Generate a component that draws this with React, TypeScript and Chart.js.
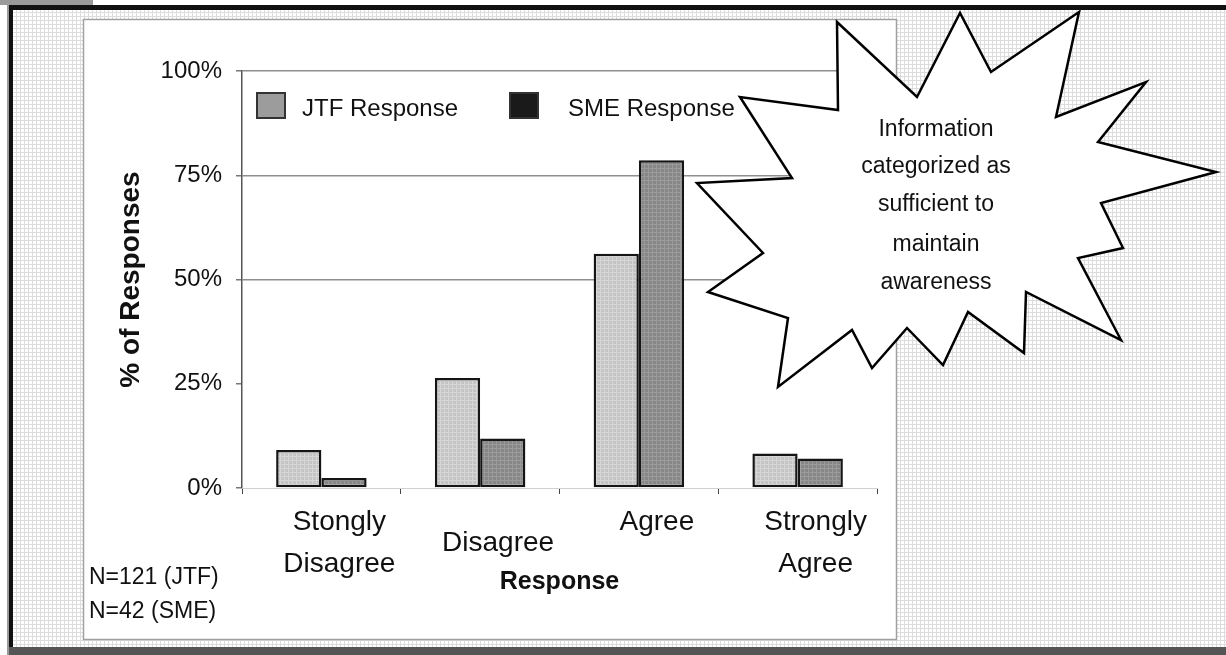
import React, { useEffect, useRef } from "react";
import { Chart, registerables } from "chart.js";

Chart.register(...registerables);

// ---- data ----
const categories: (string | string[])[] = [["Stongly", "Disagree"], "Disagree", ["Agree", ""], ["Strongly", "Agree"]];
const jtfValues = [9.1, 26.4, 56.2, 8.3];
const smeValues = [2.4, 11.9, 78.6, 7.1];
const yTickValues = [0, 25, 50, 75, 100];
const seriesNames = ["JTF Response", "SME Response"];
const sampleNotes = ["N=121 (JTF)", "N=42 (SME)"];
const calloutLines = ["Information", "categorized as", "sufficient to", "maintain", "awareness"];
const yAxisTitle = "% of Responses";
const xAxisTitle = "Response";

// ---- decoration geometry (pixels) ----
const W = 1226;
const H = 655;
const starPoints: [number, number][] = [
  [837, 22], [917, 97], [960, 13], [991, 72], [1079, 12], [1056, 117], [1146, 82],
  [1098, 142], [1216, 172], [1101, 203], [1123, 248], [1078, 258], [1121, 340],
  [1026, 292], [1024, 353], [968, 312], [943, 365], [907, 328], [872, 368],
  [852, 330], [778, 387], [788, 318], [708, 292], [763, 253], [697, 183],
  [792, 178], [740, 97], [838, 110],
];
const FONT = "'Liberation Sans', Arial, Helvetica, sans-serif";

function makePattern(base: string, line: string, size = 4): CanvasPattern | string {
  const c = document.createElement("canvas");
  c.width = size;
  c.height = size;
  const g = c.getContext("2d");
  if (!g) return base;
  g.fillStyle = base;
  g.fillRect(0, 0, size, size);
  g.fillStyle = line;
  g.fillRect(0, 0, size, 1);
  g.fillRect(0, 0, 1, size);
  const p = g.createPattern(c, "repeat");
  return p || base;
}

export default function App() {
  const ref = useRef<HTMLCanvasElement | null>(null);

  useEffect(() => {
    document.body.style.margin = "0";
    const canvas = ref.current;
    if (!canvas) return;

    const bgPattern = makePattern("#ffffff", "#dcdcdc");
    const jtfPattern = makePattern("#c4c4c4", "#d6d6d6");
    const smePattern = makePattern("#878787", "#9a9a9a");

    const decor = {
      id: "decor",
      beforeDraw(chart: any) {
        const ctx = chart.ctx as CanvasRenderingContext2D;
        ctx.save();
        ctx.fillStyle = "#ffffff";
        ctx.fillRect(0, 0, W, H);
        ctx.fillStyle = bgPattern as any;
        ctx.fillRect(13, 10, W - 13, 637);
        ctx.fillStyle = "#9a9a9a";
        ctx.fillRect(0, 0, 93, 5);
        ctx.fillStyle = "#111111";
        ctx.fillRect(9, 5, W - 9, 5);
        ctx.fillStyle = "#9a9a9a";
        ctx.fillRect(7, 5, 2, H - 5);
        ctx.fillStyle = "#111111";
        ctx.fillRect(9, 5, 4, H - 5);
        ctx.fillStyle = "#555555";
        ctx.fillRect(9, 647, W - 9, 8);
        // white chart panel
        ctx.fillStyle = "#ffffff";
        ctx.fillRect(83, 19, 813, 621);
        ctx.strokeStyle = "#a0a0a0";
        ctx.lineWidth = 1.5;
        ctx.strokeRect(83.5, 19.5, 813, 620);
        ctx.restore();
      },
      afterDraw(chart: any) {
        const ctx = chart.ctx as CanvasRenderingContext2D;
        const area = chart.chartArea;
        ctx.save();
        // legend inside plot area
        const lx = area.left + 15;
        const ly = area.top + 22;
        const swatchFills = ["#9c9c9c", "#1a1a1a"];
        const textX = [lx + 45, lx + 311];
        const swX = [lx, lx + 253];
        ctx.font = `24px ${FONT}`;
        ctx.textBaseline = "middle";
        ctx.textAlign = "left";
        for (let i = 0; i < seriesNames.length; i++) {
          ctx.fillStyle = swatchFills[i];
          ctx.fillRect(swX[i], ly, 28, 25);
          ctx.strokeStyle = "#333";
          ctx.lineWidth = 2;
          ctx.strokeRect(swX[i], ly, 28, 25);
          ctx.fillStyle = "#111";
          ctx.fillText(seriesNames[i], textX[i], ly + 16);
        }
        // sample size notes
        ctx.font = `23px ${FONT}`;
        ctx.fillStyle = "#111";
        sampleNotes.forEach((t, i) => ctx.fillText(t, 89, 578 + i * 34));
        // starburst callout
        ctx.beginPath();
        starPoints.forEach(([x, y], i) => (i === 0 ? ctx.moveTo(x, y) : ctx.lineTo(x, y)));
        ctx.closePath();
        ctx.fillStyle = "#ffffff";
        ctx.fill();
        ctx.strokeStyle = "#000";
        ctx.lineWidth = 2.5;
        ctx.lineJoin = "miter";
        ctx.stroke();
        // redraw top border over the star
        ctx.fillStyle = "#111111";
        ctx.fillRect(9, 5, W - 9, 5);
        ctx.font = `23px ${FONT}`;
        ctx.textAlign = "center";
        ctx.fillStyle = "#111";
        const lineYs = [130, 167, 205, 245, 283];
        calloutLines.forEach((t, i) => ctx.fillText(t, 936, lineYs[i]));
        ctx.restore();
      },
    };

    const chart = new Chart(canvas, {
      type: "bar",
      data: {
        labels: categories as any,
        datasets: [
          {
            label: seriesNames[0],
            data: jtfValues,
            backgroundColor: jtfPattern as any,
            borderColor: "#151515",
            borderWidth: 2.5,
            borderSkipped: false,
            barPercentage: 1,
            categoryPercentage: 0.57,
          },
          {
            label: seriesNames[1],
            data: smeValues,
            backgroundColor: smePattern as any,
            borderColor: "#151515",
            borderWidth: 2.5,
            borderSkipped: false,
            barPercentage: 1,
            categoryPercentage: 0.57,
          },
        ],
      },
      options: {
        responsive: false,
        animation: false,
        layout: { padding: { left: 100, right: 349, top: 71, bottom: 15 } },
        plugins: {
          legend: { display: false },
          tooltip: { enabled: false },
        },
        scales: {
          x: {
            afterFit: (s: any) => {
              s.height = 152;
            },
            grid: {
              offset: true,
              drawOnChartArea: false,
              drawTicks: true,
              tickLength: 6,
              color: "#444",
            },
            border: { display: true, color: "#d0d0d0", width: 1 },
            ticks: {
              color: "#111",
              font: { family: FONT, size: 28, lineHeight: 1.5 },
              crossAlign: "center",
              padding: 28,
              labelOffset: 18,
              maxRotation: 0,
              autoSkip: false,
            },
            title: {
              display: true,
              text: xAxisTitle,
              color: "#111",
              font: { family: FONT, size: 25, weight: "bold", lineHeight: 1.2 },
              padding: { top: 0, bottom: 43 },
            },
          },
          y: {
            min: 0,
            max: 100,
            afterFit: (s: any) => {
              s.width = 142;
            },
            afterBuildTicks: (s: any) => {
              s.ticks = yTickValues.map((v) => ({ value: v }));
            },
            grid: {
              color: (c: any) => (c.tick && (c.tick.value === 25 || c.tick.value === 0) ? "rgba(0,0,0,0)" : "#8e8e8e"),
              lineWidth: 1.5,
              tickLength: 6,
              tickColor: "#777",
            },
            border: { display: true, color: "#555", width: 1.5 },
            ticks: {
              color: "#111",
              font: { family: FONT, size: 24 },
              padding: 14,
              callback: (v: any) => `${v}%`,
            },
            title: {
              display: true,
              text: yAxisTitle,
              color: "#111",
              font: { family: FONT, size: 28, weight: "bold", lineHeight: 1.2 },
              padding: { top: 14, bottom: 0 },
            },
          },
        },
      },
      plugins: [decor],
    } as any);

    return () => chart.destroy();
  }, []);

  return (
    <div style={{ width: W, height: H }}>
      <canvas ref={ref} width={W} height={H} style={{ display: "block", width: W, height: H }} />
    </div>
  );
}
